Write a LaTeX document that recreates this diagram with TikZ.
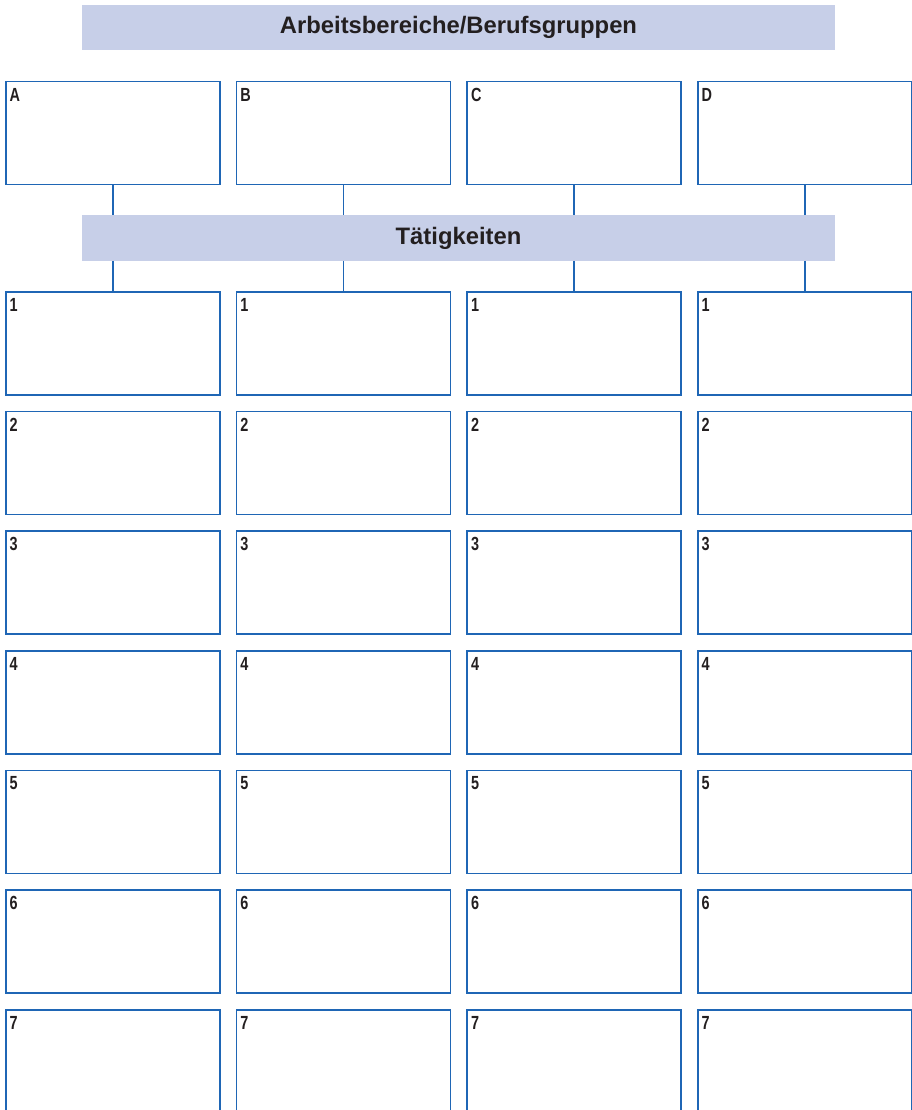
\documentclass[tikz,border=0pt]{standalone}
\usepackage{fontspec}
\usepackage{graphicx}
\setmainfont{Liberation Sans}
\definecolor{boxblue}{HTML}{1F66B5}
\definecolor{bannerfill}{HTML}{C7CFE8}
\definecolor{inkdark}{HTML}{231F20}
\newcommand{\cellmark}[1]{\scalebox{0.76}[1]{#1}}
\tikzset{
  banner/.style={fill=bannerfill, draw=none, minimum width=753pt, minimum height=45.5pt, inner sep=0pt,
    font=\fontsize{23.8}{26}\selectfont\bfseries, text=inkdark},
  cell/.style={draw=boxblue, line width=1.5pt, fill=white, minimum width=214pt, minimum height=103pt, inner sep=0pt, anchor=north west},
  lbl/.style={font=\fontsize{19}{21}\selectfont\bfseries, text=inkdark, inner sep=0pt, anchor=north west},
  conn/.style={draw=boxblue, line width=1.5pt}
}
\begin{document}
\begin{tikzpicture}[x=1pt,y=-1pt]
\useasboundingbox (0,0) rectangle (912,1110);
\fill[white] (0,0) rectangle (912,1110);
\node[banner] (top) at (458.5,27.5) {Arbeitsbereiche/Berufsgruppen};
\node[banner] (mid) at (458.5,238) {Tätigkeiten};
\foreach \c/\name [count=\i from 0] in {A/A,B/B,C/C,D/D} {
  \pgfmathsetmacro{\xl}{5+\i*230.67}
  \node[cell] (\name) at (\xl,81) {};
  \node[lbl] at ([xshift=4.5pt,yshift=-7pt]\name.north west) {\cellmark{\c}};
  \draw[conn] (\name.south) -- (\name.south |- mid.north);
  \foreach \r in {1,...,7} {
    \pgfmathsetmacro{\yt}{291+(\r-1)*119.67}
    \node[cell] (\name\r) at (\xl,\yt) {};
    \node[lbl] at ([xshift=4.5pt,yshift=-7pt]\name\r.north west) {\cellmark{\r}};
  }
  \draw[conn] (\name1.north |- mid.south) -- (\name1.north);
}
\end{tikzpicture}
\end{document}
